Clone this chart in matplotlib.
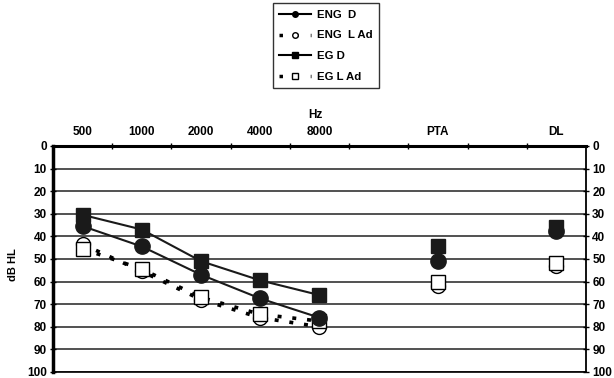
import matplotlib
matplotlib.use("Agg")
import matplotlib.pyplot as plt
from matplotlib.lines import Line2D

plt.rcParams['font.family'] = ['Liberation Sans', 'DejaVu Sans']

# x categories (audiogram frequencies + summary columns)
categories = ['500', '1000', '2000', '4000', '8000', 'PTA', 'DL']
cat_pos = [0.5, 1.5, 2.5, 3.5, 4.5, 6.5, 8.5]

# dB HL values per frequency, then PTA and DL
eng_d = [35.5, 44.5, 57, 67.5, 76]
eng_d_extra = [51, 37.5]
eng_lad = [43.5, 55.5, 68, 76, 80]
eng_lad_extra = [62, 53]
eg_d = [30.5, 37, 51, 59.5, 66]
eg_d_extra = [44.5, 36]
eg_lad = [45.5, 54.5, 67, 74.5, 77.5]
eg_lad_extra = [60, 52]

yticks = list(range(0, 101, 10))

fig = plt.figure(figsize=(6.14, 3.78), dpi=100)
ax = fig.add_axes([0.0863, 0.016, 0.868, 0.598])

freq_x = cat_pos[:5]
extra_x = cat_pos[5:]

dash = (0, (1.1, 3.0))

# open markers first (they sit behind the filled ones)
ax.plot(freq_x, eng_lad, color='black', lw=2.6, linestyle=dash, zorder=2)
ax.plot(freq_x, eg_lad, color='black', lw=2.6, linestyle=dash, zorder=2)
for xs, ys in [(freq_x, eng_lad), (extra_x, eng_lad_extra)]:
    ax.plot(xs, ys, linestyle='none', marker='o', ms=10, mfc='white',
            mec='black', mew=1.0, zorder=3)
for xs, ys in [(freq_x, eg_lad), (extra_x, eg_lad_extra)]:
    ax.plot(xs, ys, linestyle='none', marker='s', ms=9.5, mfc='white',
            mec='black', mew=1.0, zorder=4)

ax.plot(freq_x, eg_d, color='#1a1a1a', lw=1.5, marker='s', ms=10, zorder=5)
ax.plot(extra_x, eg_d_extra, linestyle='none', color='#1a1a1a', marker='s', ms=10, zorder=5)
ax.plot(freq_x, eng_d, color='#1a1a1a', lw=1.5, marker='o', ms=11, zorder=6)
ax.plot(extra_x, eng_d_extra, linestyle='none', color='#1a1a1a', marker='o', ms=11, zorder=6)

ax.set_xlim(0, 9)
ax.set_ylim(100, 0)

for y in yticks[1:]:
    ax.axhline(y, color='#333333', lw=1.2, zorder=1)

# y axis ticks both sides
ax.set_yticks(yticks)
ax.tick_params(axis='y', which='both', direction='inout', length=5, width=1,
               labelsize=8.5, left=True, right=True, labelleft=True, labelright=True, pad=2)
for lab in ax.get_yticklabels():
    lab.set_fontweight('bold')

# x axis: labels at top, small ticks between categories
ax.xaxis.tick_top()
ax.set_xticks(range(1, 9))
ax.set_xticklabels([])
ax.tick_params(axis='x', which='major', direction='inout', length=4, width=1, top=True, bottom=False)
ax.set_xticks(cat_pos, minor=True)
ax.set_xticklabels(categories, minor=True, fontsize=8.5, fontweight='bold')
ax.tick_params(axis='x', which='minor', length=0, pad=6, top=True, bottom=False)

ax.spines['top'].set_linewidth(2.2)
ax.spines['left'].set_linewidth(2.5)
ax.spines['right'].set_linewidth(1.3)
ax.spines['bottom'].set_linewidth(1.2)

fig.text(315 / 614, 1 - 115 / 378, 'Hz', ha='center', va='center', fontsize=8.5, fontweight='bold')
fig.text(13 / 614, 1 - 265 / 378, 'dB HL', ha='center', va='center', rotation=90,
         fontsize=8, fontweight='bold')

handles = [
    Line2D([], [], color='black', lw=1.5, marker='o', ms=4),
    Line2D([], [], color='black', lw=2.5, linestyle=(0, (1.0, 3.5)), marker='o', ms=4,
           mfc='white', mec='black'),
    Line2D([], [], color='black', lw=1.5, marker='s', ms=5),
    Line2D([], [], color='black', lw=2.5, linestyle=(0, (1.0, 3.5)), marker='s', ms=4,
           mfc='white', mec='black'),
]
labels = ['ENG  D', 'ENG  L Ad', 'EG D', 'EG L Ad']
leg = fig.legend(handles, labels, loc='upper center', bbox_to_anchor=(326 / 614, 1.0),
                 frameon=True, fancybox=False, edgecolor='black',
                 handlelength=2.8, labelspacing=0.95, borderpad=0.55, handletextpad=0.5,
                 borderaxespad=0.3, prop={'weight': 'bold', 'size': 8.2})
leg.get_frame().set_linewidth(1.0)

fig.savefig('out.png', dpi=100)
